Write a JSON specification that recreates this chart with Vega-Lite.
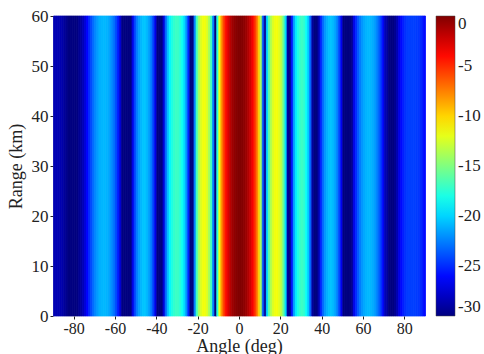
{
  "$schema": "https://vega.github.io/schema/vega-lite/v6.json",
  "width": 372,
  "height": 300,
  "autosize": {"type": "none"},
  "padding": {"left": 53, "top": 16, "right": 59, "bottom": 38},
  "background": "white",
  "config": {
    "view": {"stroke": null},
    "font": "Liberation Serif",
    "axis": {"labelFont": "Liberation Serif", "titleFont": "Liberation Serif", "labelColor": "#222", "titleColor": "#222", "titleFontWeight": "normal", "domain": false, "tickColor": "#222", "tickSize": 3, "grid": false},
    "legend": {"labelFont": "Liberation Serif", "labelColor": "#222"}
  },
  "data": {
    "values": [
      {"angle": -90, "level": -28.5}, {"angle": -89, "level": -28.5}, {"angle": -88, "level": -28.5}, {"angle": -87, "level": -28.6},
      {"angle": -86, "level": -28.8}, {"angle": -85, "level": -29.2}, {"angle": -84, "level": -29.6}, {"angle": -83, "level": -30},
      {"angle": -82, "level": -30}, {"angle": -81, "level": -30}, {"angle": -80, "level": -30}, {"angle": -79, "level": -30},
      {"angle": -78, "level": -29.5}, {"angle": -77, "level": -29}, {"angle": -76, "level": -28.3}, {"angle": -75, "level": -27.3},
      {"angle": -74, "level": -26.2}, {"angle": -73, "level": -25.0}, {"angle": -72, "level": -24.0}, {"angle": -71, "level": -23.0},
      {"angle": -70, "level": -22.2}, {"angle": -69, "level": -21.6}, {"angle": -68, "level": -21.1}, {"angle": -67, "level": -20.9},
      {"angle": -66, "level": -20.8}, {"angle": -65, "level": -20.9}, {"angle": -64, "level": -21.1}, {"angle": -63, "level": -21.6},
      {"angle": -62, "level": -22.2}, {"angle": -61, "level": -23.0}, {"angle": -60, "level": -24.1}, {"angle": -59, "level": -25.5},
      {"angle": -58, "level": -27.6}, {"angle": -57, "level": -30}, {"angle": -56, "level": -30}, {"angle": -55, "level": -30},
      {"angle": -54, "level": -30}, {"angle": -53, "level": -30}, {"angle": -52, "level": -27.0}, {"angle": -51, "level": -24.4},
      {"angle": -50, "level": -22.7}, {"angle": -49, "level": -21.6}, {"angle": -48, "level": -20.9}, {"angle": -47, "level": -20.5},
      {"angle": -46, "level": -20.5}, {"angle": -45, "level": -20.9}, {"angle": -44, "level": -21.6}, {"angle": -43, "level": -22.7},
      {"angle": -42, "level": -24.4}, {"angle": -41, "level": -27.0}, {"angle": -40, "level": -30}, {"angle": -39, "level": -30},
      {"angle": -38, "level": -30}, {"angle": -37, "level": -27.5}, {"angle": -36, "level": -23.3}, {"angle": -35, "level": -20.7},
      {"angle": -34, "level": -19.0}, {"angle": -33, "level": -17.9}, {"angle": -32, "level": -17.3}, {"angle": -31, "level": -17.0},
      {"angle": -30, "level": -17.1}, {"angle": -29, "level": -17.6}, {"angle": -28, "level": -18.4}, {"angle": -27, "level": -19.8},
      {"angle": -26, "level": -21.9}, {"angle": -25, "level": -25.1}, {"angle": -24, "level": -30}, {"angle": -23, "level": -30},
      {"angle": -22, "level": -22.5}, {"angle": -21, "level": -16.8}, {"angle": -20, "level": -13.9}, {"angle": -19, "level": -12.3},
      {"angle": -18, "level": -11.6}, {"angle": -17, "level": -11.6}, {"angle": -16, "level": -12.3}, {"angle": -15, "level": -13.9},
      {"angle": -14, "level": -16.8}, {"angle": -13, "level": -22.5}, {"angle": -12, "level": -30}, {"angle": -11, "level": -17.5},
      {"angle": -10, "level": -11.6}, {"angle": -9, "level": -8.2}, {"angle": -8, "level": -5.9}, {"angle": -7, "level": -4.2},
      {"angle": -6, "level": -2.9}, {"angle": -5, "level": -1.9}, {"angle": -4, "level": -1.1}, {"angle": -3, "level": -0.6},
      {"angle": -2, "level": -0.24}, {"angle": -1, "level": -0.04}, {"angle": 0, "level": -0.01}, {"angle": 1, "level": -0.12},
      {"angle": 2, "level": -0.4}, {"angle": 3, "level": -0.85}, {"angle": 4, "level": -1.5}, {"angle": 5, "level": -2.3},
      {"angle": 6, "level": -3.5}, {"angle": 7, "level": -5.0}, {"angle": 8, "level": -6.9}, {"angle": 9, "level": -9.7},
      {"angle": 10, "level": -14.0}, {"angle": 11, "level": -23.6}, {"angle": 12, "level": -29.2}, {"angle": 13, "level": -19.8},
      {"angle": 14, "level": -15.8}, {"angle": 15, "level": -13.5}, {"angle": 16, "level": -12.2}, {"angle": 17, "level": -11.6},
      {"angle": 18, "level": -11.6}, {"angle": 19, "level": -12.2}, {"angle": 20, "level": -13.5}, {"angle": 21, "level": -15.8},
      {"angle": 22, "level": -19.8}, {"angle": 23, "level": -29.2}, {"angle": 24, "level": -30}, {"angle": 25, "level": -25.7},
      {"angle": 26, "level": -21.6}, {"angle": 27, "level": -19.3}, {"angle": 28, "level": -17.9}, {"angle": 29, "level": -17.2},
      {"angle": 30, "level": -17.0}, {"angle": 31, "level": -17.4}, {"angle": 32, "level": -18.5}, {"angle": 33, "level": -20.3},
      {"angle": 34, "level": -23.3}, {"angle": 35, "level": -29.1}, {"angle": 36, "level": -30}, {"angle": 37, "level": -30},
      {"angle": 38, "level": -28.6}, {"angle": 39, "level": -25.4}, {"angle": 40, "level": -23.3}, {"angle": 41, "level": -21.9},
      {"angle": 42, "level": -21.1}, {"angle": 43, "level": -20.6}, {"angle": 44, "level": -20.5}, {"angle": 45, "level": -20.8},
      {"angle": 46, "level": -21.4}, {"angle": 47, "level": -22.5}, {"angle": 48, "level": -24.2}, {"angle": 49, "level": -26.8},
      {"angle": 50, "level": -30}, {"angle": 51, "level": -30}, {"angle": 52, "level": -30}, {"angle": 53, "level": -30},
      {"angle": 54, "level": -29.7}, {"angle": 55, "level": -27.0}, {"angle": 56, "level": -25.1}, {"angle": 57, "level": -23.7},
      {"angle": 58, "level": -22.6}, {"angle": 59, "level": -21.8}, {"angle": 60, "level": -21.3}, {"angle": 61, "level": -20.95},
      {"angle": 62, "level": -20.8}, {"angle": 63, "level": -20.85}, {"angle": 64, "level": -21.1}, {"angle": 65, "level": -21.5},
      {"angle": 66, "level": -22.2}, {"angle": 67, "level": -23.1}, {"angle": 68, "level": -24.3}, {"angle": 69, "level": -26.0},
      {"angle": 70, "level": -28.2}, {"angle": 71, "level": -29}, {"angle": 72, "level": -30}, {"angle": 73, "level": -30},
      {"angle": 74, "level": -30}, {"angle": 75, "level": -29.5}, {"angle": 76, "level": -28.5}, {"angle": 77, "level": -27},
      {"angle": 78, "level": -26}, {"angle": 79, "level": -25.3}, {"angle": 80, "level": -24.8}, {"angle": 81, "level": -24.5},
      {"angle": 82, "level": -24.4}, {"angle": 83, "level": -24.4}, {"angle": 84, "level": -24.4}, {"angle": 85, "level": -24.5},
      {"angle": 86, "level": -24.6}, {"angle": 87, "level": -24.9}, {"angle": 88, "level": -25.3}, {"angle": 89, "level": -26}
    ]
  },
  "mark": {"type": "rect", "binSpacing": 0, "stroke": {"expr": "scale('color', datum.level)"}, "strokeWidth": 0.8},
  "encoding": {
    "x": {
      "field": "angle", "type": "quantitative", "bin": {"binned": true, "step": 1},
      "scale": {"domain": [-90, 90], "nice": false, "zero": false},
      "axis": {"values": [-80, -60, -40, -20, 0, 20, 40, 60, 80], "title": "Angle (deg)", "labelFontSize": 16, "titleFontSize": 18, "labelPadding": 1, "titlePadding": 1, "labelExpr": "'' + datum.value", "labelFlush": false}
    },
    "y": {
      "datum": 0, "type": "quantitative",
      "scale": {"domain": [0, 60], "nice": false},
      "axis": {"values": [0, 10, 20, 30, 40, 50, 60], "title": "Range (km)", "labelFontSize": 17, "titleFontSize": 18, "labelPadding": 2, "titlePadding": 6, "labelFlush": false}
    },
    "y2": {"datum": 60},
    "color": {
      "field": "level", "type": "quantitative",
      "scale": {"domain": [-30, -26.25, -18.75, -11.25, -3.75, 0], "range": ["#000080", "#0000ff", "#00ffff", "#ffff00", "#ff0000", "#800000"], "interpolate": "rgb", "clamp": true},
      "legend": {"title": null, "type": "gradient", "direction": "vertical", "gradientLength": 300, "gradientThickness": 19, "offset": 11, "values": [-30, -25, -20, -15, -10, -5, 0], "labelFontSize": 17, "labelOffset": 3, "labelBaseline": "middle", "labelOverlap": false, "labelExpr": "'' + datum.value", "gradientStrokeColor": "#444", "gradientStrokeWidth": 0.5, "padding": 0}
    }
  }
}
